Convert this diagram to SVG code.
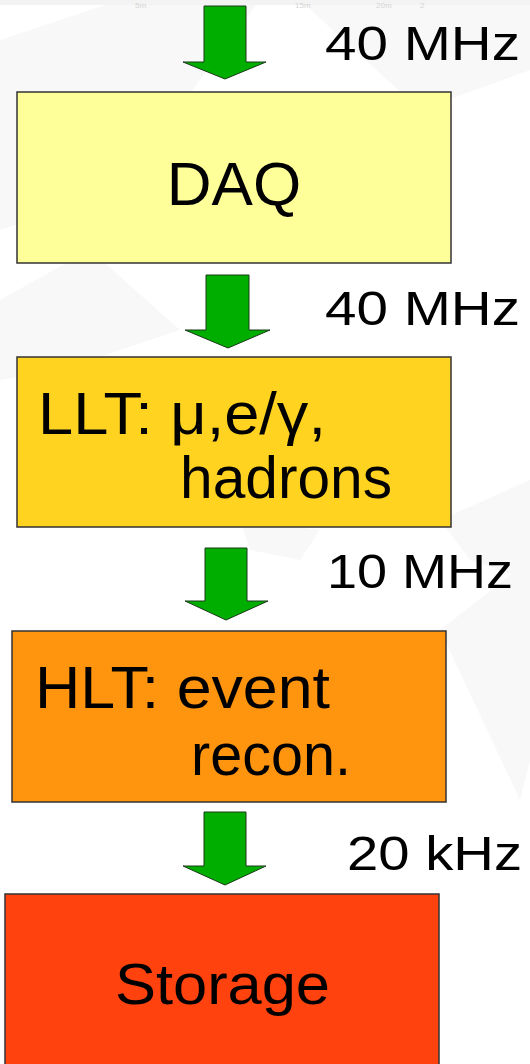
<svg xmlns="http://www.w3.org/2000/svg" width="530" height="1064" viewBox="0 0 530 1064">
  <defs>
    <style>
      .box { stroke: #333333; stroke-width: 1.5; }
      .flow { fill: #00AE00; stroke: #1a3a1a; stroke-width: 1; }
      .lbl { font-family: "Liberation Sans", "DejaVu Sans", sans-serif; fill: #000000; }
      .rate { font-family: "Liberation Sans", "DejaVu Sans", sans-serif; font-size: 48px; fill: #000000; }
      .tick { font-family: "Liberation Sans", sans-serif; font-size: 8px; fill: #d4d4d4; }
      .haze { fill: #f8f8f8; }
    </style>
  </defs>

  <!-- background -->
  <rect x="0" y="0" width="530" height="1064" fill="#ffffff"/>
  <g id="watermark">
    <polygon class="haze" points="0,40 120,0 260,0 170,120 60,210 0,230"/>
    <polygon class="haze" points="300,0 530,0 530,70 420,110"/>
    <polygon class="haze" points="0,300 90,250 180,330 60,370 0,380"/>
    <polygon class="haze" points="440,520 530,480 530,580 470,560"/>
    <polygon class="haze" points="440,630 530,560 530,760 520,800"/>
    <polygon class="haze" points="240,520 320,530 300,560 250,550"/>
    <rect x="0" y="0" width="530" height="5" fill="#f3f3f3"/>
    <text class="tick" x="135" y="8">5m</text>
    <text class="tick" x="295" y="8">15m</text>
    <text class="tick" x="376" y="8">20m</text>
    <text class="tick" x="420" y="8">2</text>
  </g>

  <!-- flow arrows between stages -->
  <g id="connectors">
    <polygon class="flow" points="204,6 246,6 246,62 266,62 225,79 183,62 204,62"/>
    <polygon class="flow" points="206,275 249,275 249,330 270,330 228,348 185,330 206,330"/>
    <polygon class="flow" points="205,548 247,548 247,601 268,601 226,620 185,601 205,601"/>
    <polygon class="flow" points="204,812 246,812 246,866 266,866 225,885 183,866 204,866"/>
  </g>

  <!-- rate labels -->
  <g id="rates">
    <text class="rate" x="325" y="60" textLength="195" lengthAdjust="spacingAndGlyphs">40 MHz</text>
    <text class="rate" x="325" y="325" textLength="195" lengthAdjust="spacingAndGlyphs">40 MHz</text>
    <text class="rate" x="327" y="588" textLength="186" lengthAdjust="spacingAndGlyphs">10 MHz</text>
    <text class="rate" x="347" y="870" textLength="175" lengthAdjust="spacingAndGlyphs">20 kHz</text>
  </g>

  <g id="daq">
    <rect class="box" x="17" y="92" width="434" height="171" fill="#FFFF99"/>
    <text class="lbl" x="234" y="205" font-size="62" text-anchor="middle">DAQ</text>
  </g>

  <g id="llt">
    <rect class="box" x="17" y="357" width="434" height="170" fill="#FFD320"/>
    <text class="lbl" x="38" y="434" font-size="60" textLength="288" lengthAdjust="spacingAndGlyphs">LLT: μ,e/γ,</text>
    <text class="lbl" x="180" y="498" font-size="60" textLength="212" lengthAdjust="spacingAndGlyphs">hadrons</text>
  </g>

  <g id="hlt">
    <rect class="box" x="12" y="631" width="434" height="171" fill="#FF950E"/>
    <text class="lbl" x="35" y="708" font-size="60" textLength="295" lengthAdjust="spacingAndGlyphs">HLT: event</text>
    <text class="lbl" x="191" y="775" font-size="60" textLength="160" lengthAdjust="spacingAndGlyphs">recon.</text>
  </g>

  <g id="storage">
    <rect class="box" x="5" y="894" width="434" height="175" fill="#FF420E"/>
    <text class="lbl" x="115" y="1004" font-size="58" textLength="215" lengthAdjust="spacingAndGlyphs">Storage</text>
  </g>
</svg>
